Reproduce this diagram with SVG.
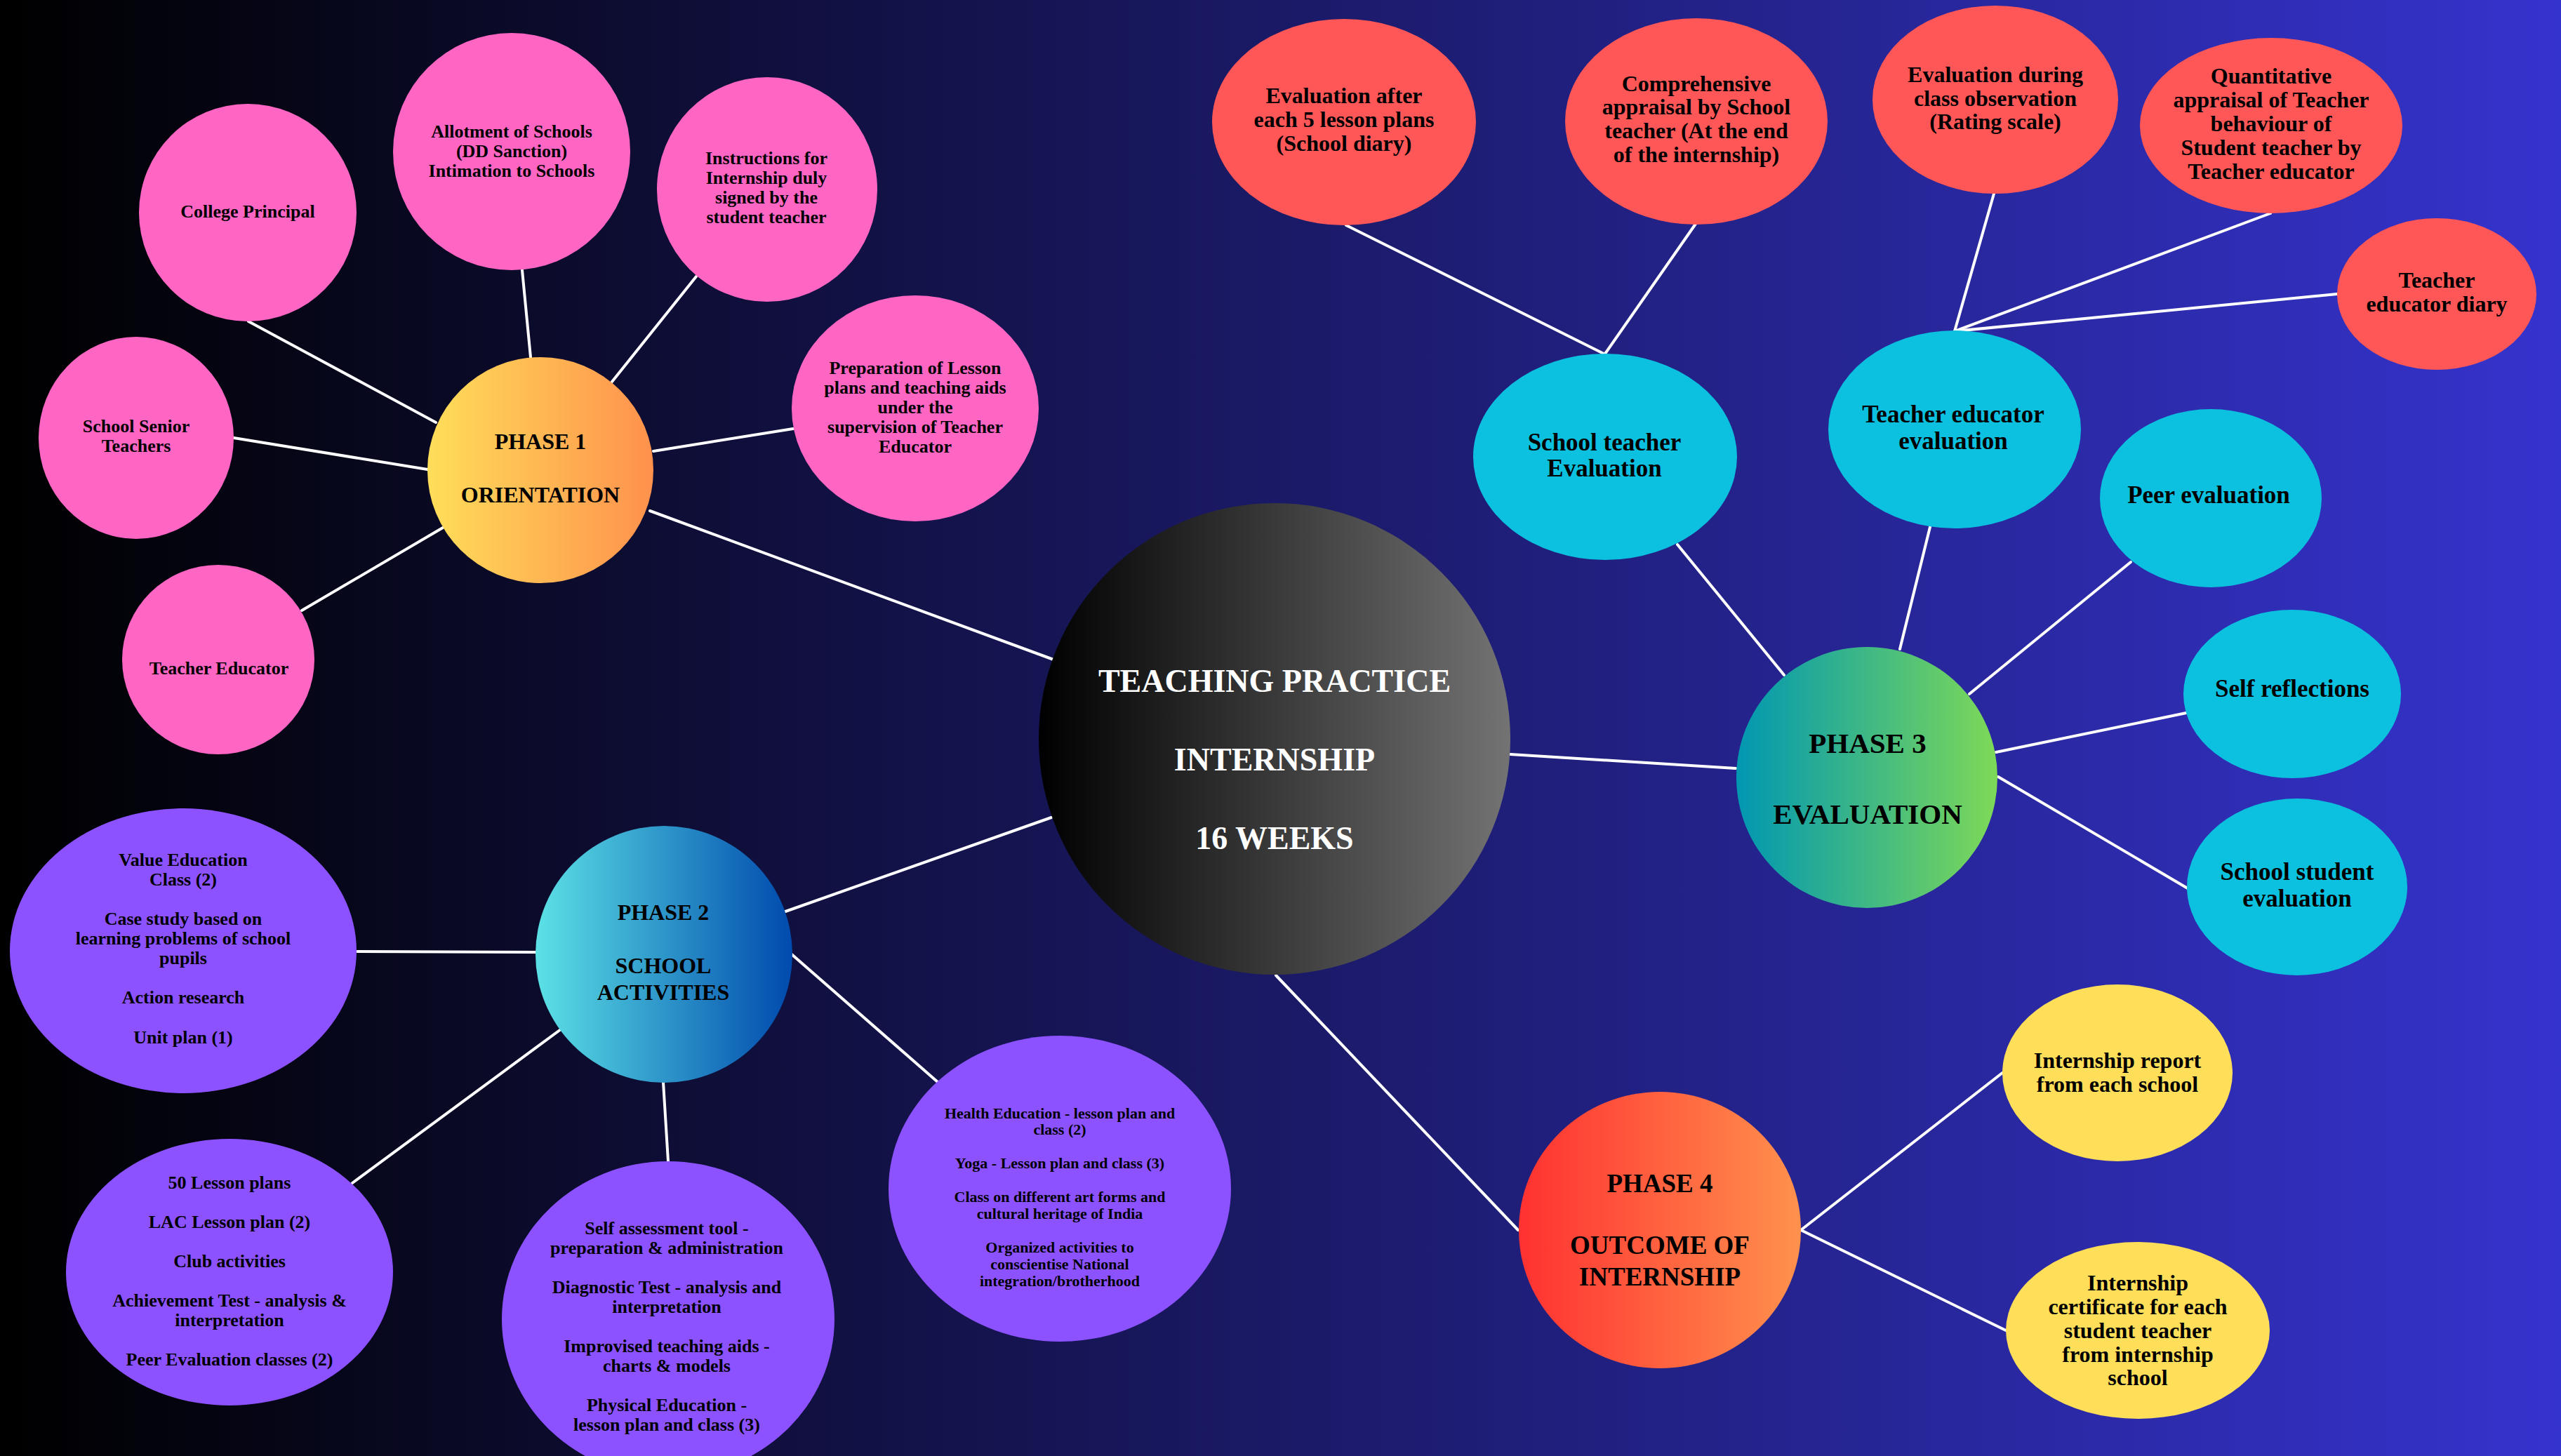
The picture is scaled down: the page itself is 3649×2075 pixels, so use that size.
<svg xmlns="http://www.w3.org/2000/svg" width="3649" height="2075" viewBox="0 0 3649 2075">
<defs>
<linearGradient id="bg" x1="0" y1="0" x2="1" y2="0">
<stop offset="0" stop-color="#000000"/>
<stop offset="1" stop-color="#3533cd"/>
</linearGradient>
<linearGradient id="gC" x1="0" y1="0" x2="1" y2="0"><stop offset="0" stop-color="#000000"/><stop offset="1" stop-color="#737373"/></linearGradient>
<linearGradient id="g1" x1="0" y1="0" x2="1" y2="0"><stop offset="0" stop-color="#ffde59"/><stop offset="1" stop-color="#ff914d"/></linearGradient>
<linearGradient id="g2" x1="0" y1="0" x2="1" y2="0"><stop offset="0" stop-color="#5ce1e6"/><stop offset="1" stop-color="#004aad"/></linearGradient>
<linearGradient id="g3" x1="0" y1="0" x2="1" y2="0"><stop offset="0" stop-color="#0097b2"/><stop offset="1" stop-color="#7ed957"/></linearGradient>
<linearGradient id="g4" x1="0" y1="0" x2="1" y2="0"><stop offset="0" stop-color="#ff3131"/><stop offset="1" stop-color="#ff914d"/></linearGradient>
</defs>
<style>
text{font-family:"Liberation Serif","Times New Roman",serif;font-weight:bold;text-anchor:middle;fill:#000}
.pk{fill:#ff66c4}.pu{fill:#8c52ff}.rd{fill:#ff5757}.cy{fill:#0cc0df}.yl{fill:#ffde59}
.s22{font-size:22px}.s26{font-size:26px}.s32{font-size:32px}.s35{font-size:35px}
.ph{font-size:32px}.ctr{font-size:46px;fill:#fff}
#connectors line{stroke:#fff;stroke-width:4;stroke-linecap:round}
</style>
<rect x="0" y="0" width="3649" height="2075" fill="url(#bg)"/>
<g id="connectors">
<line x1="1501" y1="940" x2="926" y2="728"/>
<line x1="354" y1="458" x2="621" y2="602"/>
<line x1="744" y1="385" x2="756" y2="509"/>
<line x1="992" y1="394" x2="872" y2="544"/>
<line x1="1130" y1="611" x2="931" y2="643"/>
<line x1="333" y1="624" x2="609" y2="669"/>
<line x1="430" y1="870" x2="631" y2="752"/>
<line x1="1498" y1="1165" x2="1119" y2="1299"/>
<line x1="509" y1="1356" x2="763" y2="1357"/>
<line x1="799" y1="1467" x2="502" y2="1686"/>
<line x1="945" y1="1542" x2="952" y2="1655"/>
<line x1="1128" y1="1360" x2="1336" y2="1542"/>
<line x1="1918" y1="321" x2="2285" y2="504"/>
<line x1="2416" y1="319" x2="2287" y2="504"/>
<line x1="2841" y1="276" x2="2785" y2="472"/>
<line x1="3235" y1="304" x2="2785" y2="472"/>
<line x1="3330" y1="419" x2="2785" y2="472"/>
<line x1="2390" y1="776" x2="2542" y2="962"/>
<line x1="2750" y1="751" x2="2707" y2="925"/>
<line x1="3036" y1="801" x2="2806" y2="989"/>
<line x1="3115" y1="1016" x2="2844" y2="1072"/>
<line x1="2152" y1="1075" x2="2473" y2="1095"/>
<line x1="2847" y1="1107" x2="3117" y2="1266"/>
<line x1="1818" y1="1390" x2="2163" y2="1753"/>
<line x1="2566" y1="1753" x2="2853" y2="1529"/>
<line x1="2566" y1="1753" x2="2858" y2="1896"/>
</g>
<g id="center">
<circle cx="1816" cy="1053" r="336" fill="url(#gC)"/>
<text class="ctr" x="1816" y="986">TEACHING PRACTICE</text>
<text class="ctr" x="1816" y="1098">INTERNSHIP</text>
<text class="ctr" x="1816" y="1210">16 WEEKS</text>
</g>
<g id="phase1">
<circle cx="770" cy="670" r="161" fill="url(#g1)"/>
<text class="ph" x="770" y="640">PHASE 1</text>
<text class="ph" x="770" y="716">ORIENTATION</text>
</g>
<g id="college-principal">
<ellipse class="pk" cx="353" cy="303" rx="155" ry="155"/>
<text class="s26" x="353" y="310">College Principal</text>
</g>
<g id="allotment">
<ellipse class="pk" cx="729" cy="216" rx="169" ry="169"/>
<text class="s26" x="729" y="196">Allotment of Schools</text>
<text class="s26" x="729" y="224">(DD Sanction)</text>
<text class="s26" x="729" y="252">Intimation to Schools</text>
</g>
<g id="instructions">
<ellipse class="pk" cx="1093" cy="270" rx="157" ry="160"/>
<text class="s26" x="1092" y="234">Instructions for</text>
<text class="s26" x="1092" y="262">Internship duly</text>
<text class="s26" x="1092" y="290">signed by the</text>
<text class="s26" x="1092" y="318">student teacher</text>
</g>
<g id="preparation">
<ellipse class="pk" cx="1304" cy="582" rx="176" ry="161"/>
<text class="s26" x="1304" y="533">Preparation of Lesson</text>
<text class="s26" x="1304" y="561">plans and teaching aids</text>
<text class="s26" x="1304" y="589">under the</text>
<text class="s26" x="1304" y="617">supervision of Teacher</text>
<text class="s26" x="1304" y="645">Educator</text>
</g>
<g id="school-senior-teachers">
<ellipse class="pk" cx="194" cy="624" rx="139" ry="144"/>
<text class="s26" x="194" y="616">School Senior</text>
<text class="s26" x="194" y="644">Teachers</text>
</g>
<g id="teacher-educator">
<ellipse class="pk" cx="311" cy="940" rx="137" ry="135"/>
<text class="s26" x="312" y="961">Teacher Educator</text>
</g>
<g id="phase2">
<circle cx="946" cy="1360" r="183" fill="url(#g2)"/>
<text class="ph" x="945" y="1311">PHASE 2</text>
<text class="ph" x="945" y="1387">SCHOOL</text>
<text class="ph" x="945" y="1425">ACTIVITIES</text>
</g>
<g id="value-education">
<ellipse class="pu" cx="261" cy="1355" rx="247" ry="203"/>
<text class="s26" x="261" y="1234">Value Education</text>
<text class="s26" x="261" y="1262">Class (2)</text>
<text class="s26" x="261" y="1318">Case study based on</text>
<text class="s26" x="261" y="1346">learning problems of school</text>
<text class="s26" x="261" y="1374">pupils</text>
<text class="s26" x="261" y="1430">Action research</text>
<text class="s26" x="261" y="1487">Unit plan (1)</text>
</g>
<g id="lesson-plans">
<ellipse class="pu" cx="327" cy="1813" rx="233" ry="190"/>
<text class="s26" x="327" y="1694">50 Lesson plans</text>
<text class="s26" x="327" y="1750">LAC Lesson plan (2)</text>
<text class="s26" x="327" y="1806">Club activities</text>
<text class="s26" x="327" y="1862">Achievement Test - analysis &amp;</text>
<text class="s26" x="327" y="1890">interpretation</text>
<text class="s26" x="327" y="1946">Peer Evaluation classes (2)</text>
</g>
<g id="self-assessment">
<ellipse class="pu" cx="952" cy="1880" rx="237" ry="225"/>
<text class="s26" x="950" y="1759">Self assessment tool -</text>
<text class="s26" x="950" y="1787">preparation &amp; administration</text>
<text class="s26" x="950" y="1843">Diagnostic Test - analysis and</text>
<text class="s26" x="950" y="1871">interpretation</text>
<text class="s26" x="950" y="1927">Improvised teaching aids -</text>
<text class="s26" x="950" y="1955">charts &amp; models</text>
<text class="s26" x="950" y="2011">Physical Education -</text>
<text class="s26" x="950" y="2039">lesson plan and class (3)</text>
</g>
<g id="health-education">
<ellipse class="pu" cx="1510" cy="1694" rx="244" ry="218"/>
<text class="s22" x="1510" y="1594">Health Education - lesson plan and</text>
<text class="s22" x="1510" y="1617">class (2)</text>
<text class="s22" x="1510" y="1665">Yoga - Lesson plan and class (3)</text>
<text class="s22" x="1510" y="1713">Class on different art forms and</text>
<text class="s22" x="1510" y="1737">cultural heritage of India</text>
<text class="s22" x="1510" y="1785">Organized activities to</text>
<text class="s22" x="1510" y="1809">conscientise National</text>
<text class="s22" x="1510" y="1833">integration/brotherhood</text>
</g>
<g id="phase3">
<circle cx="2660" cy="1108" r="186" fill="url(#g3)"/>
<text x="2661" y="1073" style="font-size:41px">PHASE 3</text>
<text x="2661" y="1174" style="font-size:41px">EVALUATION</text>
</g>
<g id="school-teacher-evaluation">
<ellipse class="cy" cx="2287" cy="651" rx="188" ry="147"/>
<text class="s35" x="2286" y="642">School teacher</text>
<text class="s35" x="2286" y="679">Evaluation</text>
</g>
<g id="teacher-educator-evaluation">
<ellipse class="cy" cx="2785" cy="612" rx="180" ry="141"/>
<text class="s35" x="2783" y="602">Teacher educator</text>
<text class="s35" x="2783" y="640">evaluation</text>
</g>
<g id="peer-evaluation">
<ellipse class="cy" cx="3150" cy="710" rx="158" ry="127"/>
<text class="s35" x="3147" y="717">Peer evaluation</text>
</g>
<g id="self-reflections">
<ellipse class="cy" cx="3266" cy="989" rx="155" ry="120"/>
<text class="s35" x="3266" y="993">Self reflections</text>
</g>
<g id="school-student-evaluation">
<ellipse class="cy" cx="3273" cy="1264" rx="157" ry="126"/>
<text class="s35" x="3273" y="1254">School student</text>
<text class="s35" x="3273" y="1292">evaluation</text>
</g>
<g id="evaluation-after">
<ellipse class="rd" cx="1915" cy="174" rx="188" ry="147"/>
<text class="s32" x="1915" y="147">Evaluation after</text>
<text class="s32" x="1915" y="181">each 5 lesson plans</text>
<text class="s32" x="1915" y="215">(School diary)</text>
</g>
<g id="comprehensive-appraisal">
<ellipse class="rd" cx="2417" cy="173" rx="187" ry="147"/>
<text class="s32" x="2417" y="130">Comprehensive</text>
<text class="s32" x="2417" y="163">appraisal by School</text>
<text class="s32" x="2417" y="197">teacher (At the end</text>
<text class="s32" x="2417" y="231">of the internship)</text>
</g>
<g id="evaluation-during">
<ellipse class="rd" cx="2843" cy="142" rx="175" ry="134"/>
<text class="s32" x="2843" y="117">Evaluation during</text>
<text class="s32" x="2843" y="151">class observation</text>
<text class="s32" x="2843" y="184">(Rating scale)</text>
</g>
<g id="quantitative-appraisal">
<ellipse class="rd" cx="3236" cy="179" rx="187" ry="125"/>
<text class="s32" x="3236" y="119">Quantitative</text>
<text class="s32" x="3236" y="153">appraisal of Teacher</text>
<text class="s32" x="3236" y="187">behaviour of</text>
<text class="s32" x="3236" y="221">Student teacher by</text>
<text class="s32" x="3236" y="255">Teacher educator</text>
</g>
<g id="teacher-educator-diary">
<ellipse class="rd" cx="3472" cy="419" rx="142" ry="108"/>
<text class="s32" x="3472" y="410">Teacher</text>
<text class="s32" x="3472" y="444">educator diary</text>
</g>
<g id="phase4">
<ellipse cx="2365" cy="1753" rx="201" ry="197" fill="url(#g4)"/>
<text x="2365" y="1699" style="font-size:37px">PHASE 4</text>
<text x="2365" y="1787" style="font-size:37px">OUTCOME OF</text>
<text x="2365" y="1832" style="font-size:37px">INTERNSHIP</text>
</g>
<g id="internship-report">
<ellipse class="yl" cx="3017" cy="1529" rx="164" ry="126"/>
<text class="s32" x="3017" y="1522">Internship report</text>
<text class="s32" x="3017" y="1556">from each school</text>
</g>
<g id="internship-certificate">
<ellipse class="yl" cx="3046" cy="1896" rx="188" ry="126"/>
<text class="s32" x="3046" y="1839">Internship</text>
<text class="s32" x="3046" y="1873">certificate for each</text>
<text class="s32" x="3046" y="1907">student teacher</text>
<text class="s32" x="3046" y="1941">from internship</text>
<text class="s32" x="3046" y="1974">school</text>
</g>
</svg>
